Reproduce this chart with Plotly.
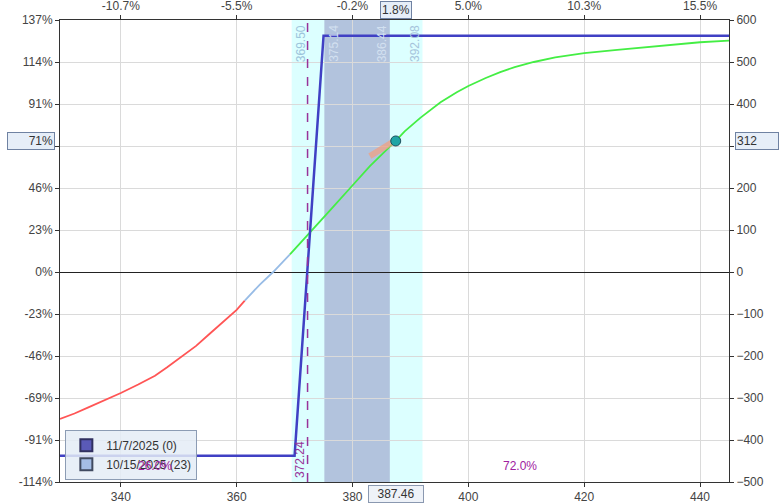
import plotly.graph_objects as go

# ---- data ----
x_range = [329.5, 445.0]
y_range = [-500, 600]
current_price = 387.46
current_pct_label = "1.8%"
current_value = 312
current_value_pct = "71%"

# expiration (11/7/2025) payoff
exp_prices = [329.5, 370.0, 375.0, 445.0]
exp_values = [-437.5, -437.5, 562.5, 562.5]

# T+0 (10/15/2025) curve
t0_prices = [329.5, 332.0, 334.3, 337.0, 340.0, 343.0, 345.9, 348.0, 350.5, 353.0,
             355.1, 358.0, 360.0, 361.4, 364.0, 366.3, 368.0, 369.2, 372.3, 376.0,
             379.6, 383.0, 387.46, 389.0, 391.7, 395.2, 398.0, 400.0, 403.0, 405.5,
             408.0, 411.3, 415.0, 420.0, 425.7, 431.5, 436.0, 440.0, 445.0]
t0_values = [-350, -337, -323, -307, -288, -268, -247, -227, -202, -176,
             -150, -115, -90, -68, -30, 0, 24, 42, 88, 145,
             200, 252, 312, 335, 367, 404, 428, 443, 462, 476,
             488, 500, 511, 521, 529, 537, 542, 547, 551]
red_end = 361.4
blue_end = 369.2

# tangent (delta) marker segment
tan_prices = [383.0, 387.0]
tan_values = [276, 310]

# bands and levels
outer_band = [369.50, 392.08]
inner_band = [375.14, 386.44]
breakeven = 372.24

x_ticks = [340, 360, 380, 400, 420, 440]
top_tick_text = ["-10.7%", "-5.5%", "-0.2%", "5.0%", "10.3%", "15.5%"]
y_ticks = [600, 500, 400, 300, 200, 100, 0, -100, -200, -300, -400, -500]
y_pct_labels = ["137%", "114%", "91%", "69%", "46%", "23%", "0%", "-23%", "-46%", "-69%", "-91%", "-114%"]
prob_texts = ["26.0%", "72.0%"]
prob_x = [345.9, 409.0]
legend_names = ["11/7/2025 (0)", "10/15/2025 (23)"]

FONT = "Liberation Sans"
fig = go.Figure()

def seg(lo, hi):
    xs, ys = [], []
    for p, v in zip(t0_prices, t0_values):
        if lo <= p <= hi:
            xs.append(p); ys.append(v)
    return xs, ys

for (lo, hi), col in [((0, red_end), "#ff5555"), ((red_end, blue_end), "#98bce6"), ((blue_end, 1e9), "#44ee44")]:
    xs, ys = seg(lo, hi)
    fig.add_trace(go.Scatter(x=xs, y=ys, mode="lines", line=dict(color=col, width=1.8),
                             showlegend=False, hoverinfo="skip"))

fig.add_trace(go.Scatter(x=exp_prices, y=exp_values, mode="lines", line=dict(color="#4040c4", width=2.5),
                         showlegend=False))

fig.add_trace(go.Scatter(x=tan_prices, y=tan_values, mode="lines", line=dict(color="rgba(240,160,130,0.75)", width=6),
                         showlegend=False))

fig.add_trace(go.Scatter(x=[current_price], y=[current_value], mode="markers",
                         marker=dict(size=10, color="#1fa5a5", line=dict(color="#1d4f5c", width=1)),
                         showlegend=False))

# legend entries
fig.add_trace(go.Scatter(x=[None], y=[None], mode="markers", name=legend_names[0],
                         marker=dict(symbol="square", size=8, color="#5a5ab8", line=dict(color="#303060", width=1))))
fig.add_trace(go.Scatter(x=[None], y=[None], mode="markers", name=legend_names[1],
                         marker=dict(symbol="square", size=8, color="#a4bde6", line=dict(color="#404a60", width=1))))

# dummy trace for secondary axes
fig.add_trace(go.Scatter(x=[x_range[0]], y=[0], xaxis="x2", yaxis="y2", mode="markers",
                         marker=dict(opacity=0), showlegend=False, hoverinfo="skip"))

shapes = [
    dict(type="rect", xref="x", yref="paper", x0=outer_band[0], x1=outer_band[1], y0=0, y1=1,
         fillcolor="#dcffff", line=dict(width=0), layer="below"),
    dict(type="rect", xref="x", yref="paper", x0=inner_band[0], x1=inner_band[1], y0=0, y1=1,
         fillcolor="#b2c3dd", line=dict(width=0), layer="below"),
    dict(type="line", xref="x", yref="paper", x0=breakeven, x1=breakeven, y0=0, y1=1,
         line=dict(color="#993399", width=1.5, dash="dash")),
]

annotations = []
band_labels = [(outer_band[0], 9, "#9cc4dc"), (inner_band[0], 9, "#d2e0f0"),
               (inner_band[1], -8, "#d2e0f0"), (outer_band[1], -8, "#a6c4dc")]
for v, sh, col in band_labels:
    annotations.append(dict(x=v, xref="x", y=1, yref="paper", yanchor="top", xanchor="center", xshift=sh, yshift=-3,
                            text="%.2f" % v, textangle=-90, showarrow=False, font=dict(family=FONT, size=12, color=col)))
annotations.append(dict(x=breakeven, xref="x", y=0, yref="paper", yanchor="bottom", xanchor="center", xshift=-8, yshift=2,
                        text="%.2f" % breakeven, textangle=-90, showarrow=False,
                        font=dict(family=FONT, size=12, color="#993399")))
for t, p in zip(prob_texts, prob_x):
    annotations.append(dict(x=p, xref="x", y=-463, yref="y", text=t, showarrow=False,
                            font=dict(family=FONT, size=12, color="#a020a0")))

box = dict(bgcolor="#e6eef8", bordercolor="#6f82a2", borderwidth=1, showarrow=False,
           font=dict(family=FONT, size=12, color="#333"))
annotations.append(dict(x=-0.008, xref="paper", y=current_value, yref="y", xanchor="right", width=44, align="right",
                        text=current_value_pct, borderpad=1, **box))
annotations.append(dict(x=1.009, xref="paper", y=current_value, yref="y", xanchor="left", width=40, align="left",
                        text=str(current_value), borderpad=1, **box))
annotations.append(dict(x=current_price, xref="x", y=1.022, yref="paper", xanchor="center", yanchor="middle",
                        text=current_pct_label, borderpad=1, **box))
annotations.append(dict(x=current_price, xref="x", y=-0.026, yref="paper", xanchor="center", yanchor="middle",
                        text="%.2f" % current_price, borderpad=1, width=52,
                        bgcolor="#eef2f8", bordercolor="#8a98b0", borderwidth=1, showarrow=False,
                        font=dict(family=FONT, size=12, color="#333")))

tickfont = dict(family=FONT, size=12, color="#444")
common = dict(showline=True, linecolor="#333", linewidth=1, ticks="outside", ticklen=4, tickcolor="#333",
              tickfont=tickfont, automargin=False)
fig.update_layout(
    width=780, height=503,
    margin=dict(l=60, r=51, t=20, b=21, autoexpand=False),
    paper_bgcolor="white", plot_bgcolor="white",
    showlegend=True,
    legend=dict(x=0.008, y=0.113, xanchor="left", yanchor="top", bgcolor="rgba(228,236,246,0.85)",
                bordercolor="#8c9cb4", borderwidth=1, font=dict(family=FONT, size=12, color="#333"),
                tracegroupgap=0, itemsizing="constant"),
    xaxis=dict(range=x_range, tickvals=x_ticks, showgrid=True, gridcolor="#dadada", gridwidth=1,
               zeroline=False, **common),
    xaxis2=dict(range=x_range, overlaying="x", side="top", tickvals=x_ticks, ticktext=top_tick_text,
                showgrid=False, zeroline=False, **common),
    yaxis=dict(range=y_range, side="right", tickvals=y_ticks, showgrid=True, gridcolor="#dadada", gridwidth=1,
               zeroline=True, zerolinecolor="#222", zerolinewidth=1, **common),
    yaxis2=dict(range=y_range, overlaying="y", side="left", tickvals=y_ticks, ticktext=y_pct_labels,
                showgrid=False, zeroline=False, **common),
    shapes=shapes,
    annotations=annotations,
)

# remove the browser's default 8px body margin so the figure fills the window
fig.write_html("out.html", config={"displayModeBar": False},
               post_script="document.body.style.margin='0';document.body.style.overflow='hidden';")
